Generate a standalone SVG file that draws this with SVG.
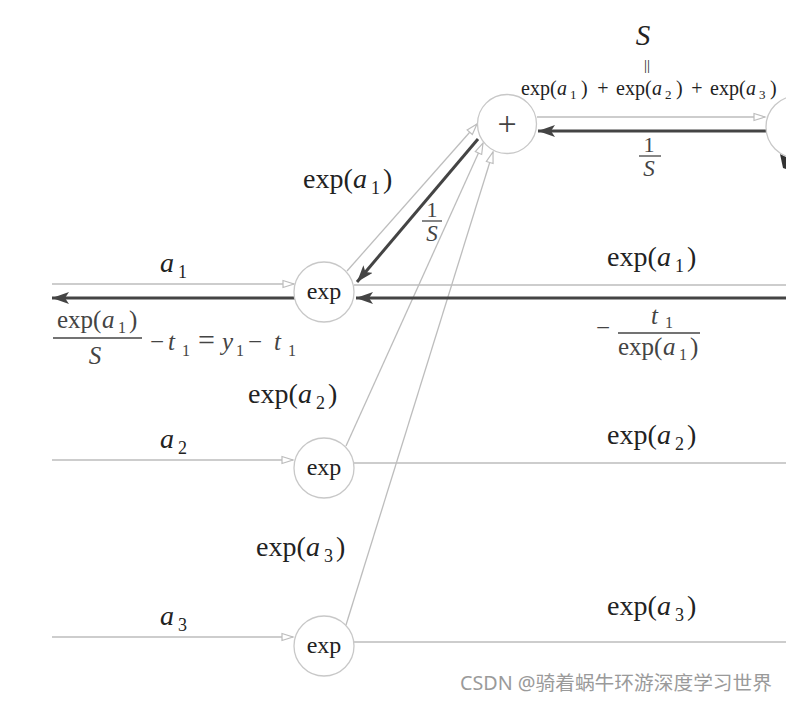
<svg xmlns="http://www.w3.org/2000/svg" width="786" height="702" viewBox="0 0 786 702">
<style>
.m{font-family:"Liberation Serif","DejaVu Serif",serif;fill:#222}
.i{font-style:italic}
.g{fill:#444}
.lt{stroke:#bdbdbd;stroke-width:1.3;fill:none}
.dk{stroke:#444;stroke-width:3;fill:none}
.node{fill:#fff;stroke:#c8c8c8;stroke-width:1.3}
.nt{font-family:"Liberation Serif","DejaVu Serif",serif;fill:#222;font-size:24px;text-anchor:middle}
</style>
<defs>
<marker id="open" markerUnits="userSpaceOnUse" markerWidth="14" markerHeight="10" refX="12" refY="5" orient="auto">
<polygon points="1,1.5 12,5 1,8.5" fill="#fff" stroke="#bdbdbd" stroke-width="1.2"/>
</marker>
<marker id="dark" markerUnits="userSpaceOnUse" markerWidth="18" markerHeight="12" refX="17" refY="6" orient="auto">
<path d="M0,0 L17,6 L0,12 L4,6 Z" fill="#444"/>
</marker>
</defs>
<rect width="786" height="702" fill="#fff"/>
<g id="connectors">
<line class="lt" x1="52" y1="284" x2="294" y2="284" marker-end="url(#open)"/>
<line class="lt" x1="52" y1="460" x2="293" y2="460" marker-end="url(#open)"/>
<line class="lt" x1="52" y1="637" x2="293" y2="637" marker-end="url(#open)"/>
<line class="lt" x1="354" y1="285" x2="786" y2="285"/>
<line class="lt" x1="354" y1="463" x2="786" y2="463"/>
<line class="lt" x1="354" y1="642" x2="786" y2="642"/>
<line class="lt" x1="347" y1="271" x2="477" y2="124" marker-end="url(#open)"/>
<line class="lt" x1="346" y1="446" x2="483" y2="143" marker-end="url(#open)"/>
<line class="lt" x1="346" y1="625" x2="493" y2="152" marker-end="url(#open)"/>
<line class="lt" x1="537" y1="117" x2="765" y2="117" marker-end="url(#open)"/>
<line class="dk" x1="767" y1="131" x2="538" y2="131" marker-end="url(#dark)"/>
<line class="dk" x1="478" y1="139" x2="357" y2="282" marker-end="url(#dark)"/>
<line class="dk" x1="786" y1="298" x2="356" y2="298" marker-end="url(#dark)"/>
<line class="dk" x1="295" y1="298" x2="52" y2="298" marker-end="url(#dark)"/>
<polygon points="780,154 786,157 786,169 783,168" fill="#333"/>
</g>
<g id="node-plus">
<circle class="node" cx="507" cy="124" r="29.5"/>
<text class="m" x="507" y="135" font-size="34" text-anchor="middle" style="fill:#444">+</text>
</g>
<g id="node-right">
<circle class="node" cx="797" cy="127" r="31"/>
</g>
<g id="node-exp1">
<circle class="node" cx="324" cy="292" r="30"/>
<text class="nt" x="324" y="299">exp</text>
</g>
<g id="node-exp2">
<circle class="node" cx="324" cy="468" r="30"/>
<text class="nt" x="324" y="475">exp</text>
</g>
<g id="node-exp3">
<circle class="node" cx="324" cy="646" r="30"/>
<text class="nt" x="324" y="653">exp</text>
</g>
<g id="labels">
<text class="m i" x="643" y="45" font-size="29" text-anchor="middle">S</text>
<text class="m" x="647" y="70" font-size="15" text-anchor="middle">||</text>
<g font-size="20">
<text class="m" x="521" y="95">exp(</text><text class="m i" x="557" y="95">a</text><text class="m" x="570" y="99" font-size="13">1</text><text class="m" x="581" y="95">)</text>
<text class="m" x="603" y="95" text-anchor="middle">+</text>
<text class="m" x="616" y="95">exp(</text><text class="m i" x="652" y="95">a</text><text class="m" x="665" y="99" font-size="13">2</text><text class="m" x="676" y="95">)</text>
<text class="m" x="697" y="95" text-anchor="middle">+</text>
<text class="m" x="710" y="95">exp(</text><text class="m i" x="746" y="95">a</text><text class="m" x="759" y="99" font-size="13">3</text><text class="m" x="770" y="95">)</text>
</g>
<text class="m g" x="649" y="152" font-size="22" text-anchor="middle">1</text>
<line x1="639" y1="156" x2="661" y2="156" stroke="#444" stroke-width="1.3"/>
<text class="m i g" x="649" y="176" font-size="23" text-anchor="middle">S</text>
<text class="m g" x="432" y="217" font-size="22" text-anchor="middle">1</text>
<line x1="422" y1="221" x2="442" y2="221" stroke="#444" stroke-width="1.3"/>
<text class="m i g" x="432" y="241" font-size="23" text-anchor="middle">S</text>
<g font-size="28">
<text class="m" x="303" y="188">exp(</text><text class="m i" x="353" y="188">a</text><text class="m" x="371" y="194" font-size="18">1</text><text class="m" x="383" y="188">)</text>
<text class="m" x="607" y="266">exp(</text><text class="m i" x="657" y="266">a</text><text class="m" x="675" y="272" font-size="18">1</text><text class="m" x="687" y="266">)</text>
<text class="m" x="248" y="403">exp(</text><text class="m i" x="298" y="403">a</text><text class="m" x="316" y="409" font-size="18">2</text><text class="m" x="328" y="403">)</text>
<text class="m" x="607" y="444">exp(</text><text class="m i" x="657" y="444">a</text><text class="m" x="675" y="450" font-size="18">2</text><text class="m" x="687" y="444">)</text>
<text class="m" x="256" y="556">exp(</text><text class="m i" x="306" y="556">a</text><text class="m" x="324" y="562" font-size="18">3</text><text class="m" x="336" y="556">)</text>
<text class="m" x="607" y="615">exp(</text><text class="m i" x="657" y="615">a</text><text class="m" x="675" y="621" font-size="18">3</text><text class="m" x="687" y="615">)</text>
<text class="m i" x="160" y="272">a</text><text class="m" x="178" y="278" font-size="18">1</text>
<text class="m i" x="160" y="448">a</text><text class="m" x="178" y="454" font-size="18">2</text>
<text class="m i" x="160" y="625">a</text><text class="m" x="178" y="631" font-size="18">3</text>
</g>
<g font-size="25">
<text class="m g" x="57" y="328">exp(</text><text class="m i g" x="102" y="328">a</text><text class="m g" x="118" y="333" font-size="16">1</text><text class="m g" x="129" y="328">)</text>
<line x1="53" y1="338" x2="142" y2="338" stroke="#444" stroke-width="1.3"/>
<text class="m i g" x="95" y="364" text-anchor="middle">S</text>
<text class="m g" x="150" y="350">−</text>
<text class="m i g" x="168" y="350">t</text><text class="m g" x="182" y="356" font-size="16">1</text>
<text class="m g" x="198" y="350" font-size="30">=</text>
<text class="m i g" x="222" y="350">y</text><text class="m g" x="236" y="356" font-size="16">1</text>
<text class="m g" x="248" y="350">−</text>
<text class="m i g" x="274" y="350">t</text><text class="m g" x="288" y="356" font-size="16">1</text>
</g>
<g font-size="25">
<text class="m g" x="596" y="336">−</text>
<text class="m i g" x="651" y="324">t</text><text class="m g" x="665" y="328" font-size="16">1</text>
<line x1="618" y1="333" x2="700" y2="333" stroke="#444" stroke-width="1.3"/>
<text class="m g" x="618" y="355">exp(</text><text class="m i g" x="663" y="355">a</text><text class="m g" x="679" y="360" font-size="16">1</text><text class="m g" x="690" y="355">)</text>
</g>
</g>
<text x="460" y="690" font-family="'Noto Sans','Noto Sans CJK SC',sans-serif" font-size="19" fill="#9a9a9a" textLength="312" lengthAdjust="spacingAndGlyphs">CSDN @骑着蜗牛环游深度学习世界</text>
</svg>
